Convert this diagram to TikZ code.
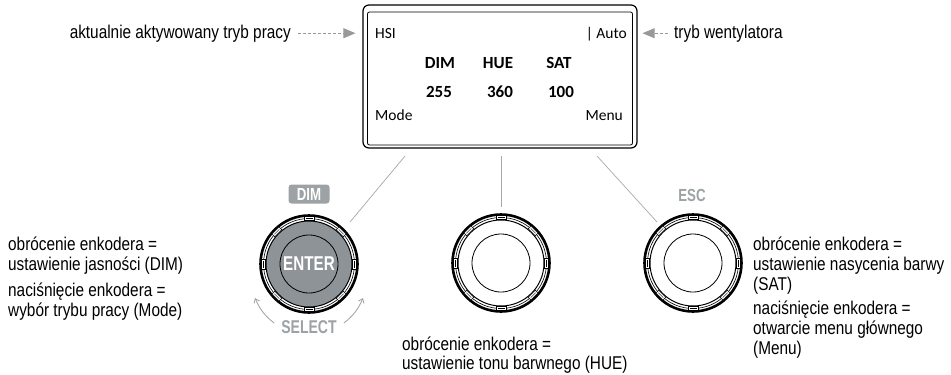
\documentclass[tikz,border=0pt]{standalone}
\usepackage{fontspec}
\setmainfont{Liberation Sans}[FakeStretch=0.83]
\newfontfamily\dispfont{Carlito}
\newfontfamily\condfont{Liberation Sans}[FakeStretch=0.76]
\usetikzlibrary{arrows.meta,calc}
\definecolor{knobgray}{HTML}{8D9396}
\definecolor{lblgray}{HTML}{9DA2A5}
\definecolor{leadgray}{HTML}{A8A8A8}
\tikzset{
  lead/.style={draw=leadgray, line width=0.7pt},
  dasharr/.style={draw=gray!80, line width=0.8pt, dash pattern=on 3pt off 2pt,
    -{Triangle[length=12pt,width=10pt,fill=gray!80]}},
  desc/.style={font=\fontsize{18.5}{20}\selectfont, align=left, inner sep=0pt, anchor=base west},
  disptxt/.style={font=\dispfont\fontsize{15.5}{18}\selectfont, inner sep=0pt},
  dispbold/.style={font=\dispfont\bfseries\fontsize{17}{20}\selectfont, inner sep=0pt, anchor=base},
  knobnode/.style={circle, minimum size=100pt, inner sep=0pt},
}
\newcommand\drawmyknob[2]{%
  \draw[line width=2.6pt, fill=white] (#1) circle (48.5pt);
  \draw[line width=0.6pt] (#1) circle (45.5pt);
  \draw[line width=1pt, fill=#2] (#1) circle (43pt);
  \foreach \a in {0,45,...,315}{
    \draw[line width=0.5pt, fill=white, shift={(#1)}, rotate=\a] (-5,-47.3) rectangle (5,-43.5);
    \draw[line width=0.4pt, shift={(#1)}, rotate=\a] (-3.5,-45.5) -- (3.5,-45.5);
  }
  \draw[line width=0.8pt] (#1) circle (29pt);
}
\begin{document}
\begin{tikzpicture}[x=1pt,y=-1pt]
\useasboundingbox[fill=white] (0,0) rectangle (951,375);

% display
\node[draw, line width=1.2pt, rounded corners=6pt, minimum width=274pt, minimum height=143pt, inner sep=0pt] (disp) at (500,76.5) {};
\draw[line width=0.8pt, rounded corners=2pt] (367.5,12) rectangle (632.5,145);

\node[disptxt, anchor=base west] (hsi) at (375,38) {HSI};
\node[disptxt, anchor=base east] (auto) at (627,38) {| Auto};
\node[dispbold] (dim) at (440,68) {DIM};
\node[dispbold] (hue) at (498,68) {HUE};
\node[dispbold] (sat) at (559,68) {SAT};
\node[dispbold] (v1) at (439,97) {255};
\node[dispbold] (v2) at (500,97) {360};
\node[dispbold] (v3) at (561,97) {100};
\node[disptxt, anchor=base west] (mode) at (375,120) {Mode};
\node[disptxt, anchor=base east] (menu) at (623,120) {Menu};

% top labels with arrows
\node[font=\fontsize{18.5}{19}\selectfont, inner sep=0pt, anchor=base east] (lbl1) at (291,38) {aktualnie aktywowany tryb pracy};
\node[font=\fontsize{18.5}{19}\selectfont, inner sep=0pt, anchor=base west] (lbl2) at (674,38) {tryb wentylatora};
\draw[dasharr] ([xshift=7pt]lbl1.east) -- ([xshift=-7pt]disp.west |- lbl1.east);
\draw[dasharr] ([xshift=-6pt]lbl2.west) -- ([xshift=5pt]disp.east |- lbl2.west);

% knobs
\node[knobnode] (k1) at (309,264) {};
\node[knobnode] (k2) at (501,263) {};
\node[knobnode] (k3) at (693,263) {};
\drawmyknob{k1}{knobgray}
\drawmyknob{k2}{white}
\drawmyknob{k3}{white}
\node[font=\condfont\bfseries\fontsize{20}{21}\selectfont, text=white, inner sep=0pt] (enter) at (309,264) {ENTER};

% labels above / below knobs
\node[fill=lblgray, rounded corners=3pt, minimum width=41pt, minimum height=19pt, inner sep=0pt,
  font=\condfont\bfseries\fontsize{17.5}{18}\selectfont, text=white] (dimlbl) at (309,194) {DIM};
\node[font=\condfont\bfseries\fontsize{17.5}{18}\selectfont, text=lblgray, inner sep=0pt] (esclbl) at (692,195) {ESC};
\node[font=\condfont\bfseries\fontsize{18.5}{19}\selectfont, text=lblgray, inner sep=0pt] (sel) at (309,327) {SELECT};
\coordinate (sl1) at (274,323);
\coordinate (sl2) at (255,298);
\coordinate (sr1) at (344,323);
\coordinate (sr2) at (363,298);
\draw[draw=lblgray, line width=0.8pt, -{Straight Barb[length=4pt,width=6pt]}] (sl1) to[bend left=14] (sl2);
\draw[draw=lblgray, line width=0.8pt, -{Straight Barb[length=4pt,width=6pt]}] (sr1) to[bend right=14] (sr2);

% leader lines
\coordinate (d1) at (405,156);
\coordinate (e1) at (350,222);
\coordinate (d2) at (501,156);
\coordinate (e2) at (501,207);
\coordinate (d3) at (597,156);
\coordinate (e3) at (657,222);
\draw[lead] (d1) -- (e1);
\draw[lead] (d2) -- (e2);
\draw[lead] (d3) -- (e3);

% descriptions (base = baseline of last line)
\node[desc] (tl1) at (8,270) {obrócenie enkodera =\\ustawienie jasności (DIM)};
\node[desc] (tl2) at (8,316) {naciśnięcie enkodera =\\wybór trybu pracy (Mode)};
\node[desc, font=\fontsize{18.5}{19}\selectfont] (tm1) at (402,369) {obrócenie enkodera =\\ustawienie tonu barwnego (HUE)};
\node[desc] (tr1) at (753,290) {obrócenie enkodera =\\ustawienie nasycenia barwy\\(SAT)};
\node[desc] (tr2) at (753,354) {naciśnięcie enkodera =\\otwarcie menu głównego\\(Menu)};
\end{tikzpicture}
\end{document}
